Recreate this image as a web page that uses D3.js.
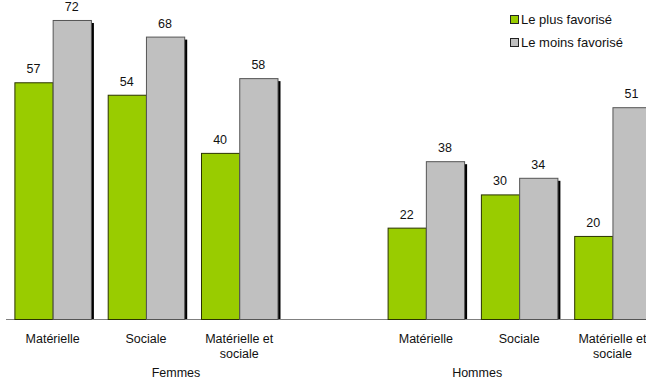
<!DOCTYPE html>
<html>
<head>
<meta charset="utf-8">
<script src="https://cdn.jsdelivr.net/npm/d3@7"></script>
<style>
  html, body { margin: 0; padding: 0; background: #fff; }
  svg { display: block; font-family: "Liberation Sans", Arial, sans-serif; }
</style>
</head>
<body>
<svg id="chart" width="646" height="380"></svg>
<script>
// Categories, grouped by sex; an empty slot separates the two groups
const groups = ["Femmes", "Hommes"];
const categories = ["Matérielle", "Sociale", "Matérielle et sociale"];
const seriesNames = ["Le plus favorisé", "Le moins favorisé"];
const plusFavorise = [57, 54, 40, 22, 30, 20];
const moinsFavorise = [72, 68, 58, 38, 34, 51];
const colors = ["#99cc00", "#c0c0c0"];

const svg = d3.select("#chart");
const W = 646, H = 380;
const baseY = 319;
const textColor = "#111";

// slots: 3 Femmes categories, a spacer, 3 Hommes categories
const slots = ["F0", "F1", "F2", "gap", "H0", "H1", "H2"];
const rows = [];
groups.forEach((g, gi) => {
  categories.forEach((c, ci) => {
    const i = gi * 3 + ci;
    rows.push({ slot: (gi === 0 ? "F" : "H") + ci, group: g, cat: c,
                values: [plusFavorise[i], moinsFavorise[i]] });
  });
});

const x0 = d3.scaleBand().domain(slots).range([6, 6 + 7 * 93.3])
  .paddingInner(0.18).paddingOuter(0.09);
const x1 = d3.scaleBand().domain(seriesNames).range([0, x0.bandwidth()]);
const y = d3.scaleLinear().domain([0, 80]).range([baseY, baseY - 80 * 4.153]);

// axis baseline
svg.append("line")
  .attr("x1", 6).attr("x2", W)
  .attr("y1", baseY + 0.5).attr("y2", baseY + 0.5)
  .attr("stroke", "#808080").attr("stroke-width", 1);

const g = svg.selectAll("g.cat").data(rows).join("g")
  .attr("class", "cat")
  .attr("transform", d => `translate(${x0(d.slot)},0)`);

const bars = d => d.values.map((v, i) => ({ v, s: seriesNames[i], i }));

// drop shadows
g.selectAll("rect.shadow").data(bars).join("rect")
  .attr("class", "shadow")
  .attr("x", d => x1(d.s) + 3)
  .attr("y", d => y(d.v) + 3)
  .attr("width", x1.bandwidth())
  .attr("height", d => baseY - y(d.v) - 3)
  .attr("fill", "#000");

// bars
g.selectAll("rect.bar").data(bars).join("rect")
  .attr("class", "bar")
  .attr("x", d => x1(d.s) + 0.5)
  .attr("y", d => y(d.v) + 0.5)
  .attr("width", x1.bandwidth())
  .attr("height", d => baseY - y(d.v))
  .attr("fill", d => colors[d.i])
  .attr("stroke", d => d.i === 0 ? "#2a3300" : "#555")
  .attr("stroke-width", 1);

// value labels
g.selectAll("text.val").data(bars).join("text")
  .attr("class", "val")
  .attr("x", d => x1(d.s) + x1.bandwidth() / 2)
  .attr("y", d => y(d.v) - 9)
  .attr("text-anchor", "middle")
  .attr("font-size", 12.5)
  .attr("fill", textColor)
  .text(d => d.v);

// category labels (wrapped onto two lines where needed)
g.each(function (d) {
  const lines = d.cat === "Matérielle et sociale" ? ["Matérielle et", "sociale"] : [d.cat];
  const t = d3.select(this).append("text")
    .attr("text-anchor", "middle")
    .attr("font-size", 12.5)
    .attr("fill", textColor);
  lines.forEach((l, li) => {
    t.append("tspan")
      .attr("x", x0.bandwidth() / 2)
      .attr("y", 343 + li * 15)
      .text(l);
  });
});

// group labels
const mid = s => x0(s) + x0.bandwidth() / 2;
const groupX = {
  Femmes: mid("F1") + 30,
  Hommes: mid("H1") - 42
};
svg.selectAll("text.grp").data(groups).join("text")
  .attr("class", "grp")
  .attr("x", d => groupX[d])
  .attr("y", 377)
  .attr("text-anchor", "middle")
  .attr("font-size", 12.5)
  .attr("fill", textColor)
  .text(d => d);

// legend
const lg = svg.selectAll("g.leg").data(seriesNames).join("g")
  .attr("class", "leg")
  .attr("transform", (d, i) => `translate(510,${15 + i * 23})`);
lg.append("rect")
  .attr("x", 0.5).attr("y", 0.5).attr("width", 8).attr("height", 8)
  .attr("fill", (d, i) => colors[i])
  .attr("stroke", "#222").attr("stroke-width", 1);
lg.append("text")
  .attr("x", 11).attr("y", 9)
  .attr("font-size", 13)
  .attr("fill", textColor)
  .text(d => d);
</script>
</body>
</html>
